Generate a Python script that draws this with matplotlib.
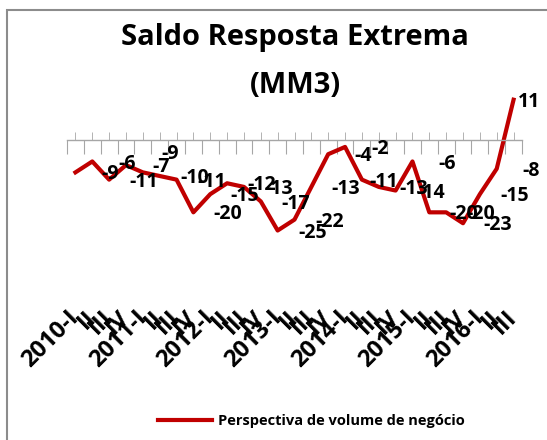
import matplotlib
matplotlib.use('Agg')
import matplotlib.pyplot as plt
import numpy as np
from matplotlib.patches import Rectangle

# trimestres 2010-I .. 2016-III
periodos = ['2010-I', 'II', 'III', 'IV',
            '2011-I', 'II', 'III', 'IV',
            '2012-I', 'II', 'III', 'IV',
            '2013-I', 'II', 'III', 'IV',
            '2014-I', 'II', 'III', 'IV',
            '2015-I', 'II', 'III', 'IV',
            '2016-I', 'II', 'III']
saldo = [-9, -6, -11, -7, -9, -10, -11, -20, -15, -12, -13, -17, -25, -22,
         -13, -4, -2, -11, -13, -14, -6, -20, -20, -23, -15, -8, 11]
serie = 'Perspectiva de volume de negócio'

plt.rcParams['font.family'] = ['Open Sans', 'DejaVu Sans']

W, H = 547, 440
fig = plt.figure(figsize=(W / 100, H / 100), dpi=100)
ax = fig.add_axes([67 / W, 1 - 285 / H, 455 / W, 218 / H])

x = np.arange(len(saldo))
ax.plot(x, saldo, color='#C00000', lw=3, label=serie)

ax.set_xlim(-0.5, len(saldo) - 0.5)
ax.set_ylim(-40, 20)
ax.set_yticks([])
for s in ['left', 'right', 'bottom']:
    ax.spines[s].set_visible(False)
ax.spines['top'].set_position(('data', 0))
ax.spines['top'].set_color('#A6A6A6')
ax.spines['top'].set_linewidth(1)

ax.set_xticks(np.arange(-0.5, len(saldo)), [''] * (len(saldo) + 1))
ax.set_xticks(x, periodos, minor=True)
ax.tick_params(axis='x', which='major', top=True, bottom=False, direction='in',
               length=10, color='#A6A6A6', labelbottom=False, labeltop=False)
ax.tick_params(axis='x', which='minor', top=True, bottom=False, direction='out',
               length=6, color='#A6A6A6', labelbottom=True, labeltop=False,
               pad=15, labelsize=17)
for lbl in ax.get_xticklabels(minor=True):
    lbl.set_rotation(45)
    lbl.set_rotation_mode('anchor')
    lbl.set_ha('right')
    lbl.set_va('center')
    lbl.set_fontweight('bold')

# rotulos de dados (deslocados para a direita, como no original)
ajuste = {4: (-5, 15), 17: (-9, 0), 26: (-14, 0)}
for i, v in enumerate(saldo):
    dx, dy = ajuste.get(i, (0, 0))
    ax.annotate(str(v), (i, v), xytext=(25 + dx, -1.5 + dy), textcoords='offset points',
                ha='center', va='center', fontsize=14, fontweight='bold')

fig.text(295 / W, 1 - 45 / H, 'Saldo Resposta Extrema', ha='center', va='baseline',
         fontsize=21, fontweight='bold')
fig.text(295 / W, 1 - 93 / H, '(MM3)', ha='center', va='baseline',
         fontsize=21, fontweight='bold')

fig.legend(loc='center left', bbox_to_anchor=(158 / W, 1 - 421 / H), frameon=False,
           borderpad=0, borderaxespad=0, handlelength=3.7, handletextpad=0.4,
           prop=dict(weight='bold', size=10.5))

fig.add_artist(Rectangle((7 / W, -0.1), 1.2, 1.1 - 10 / H, transform=fig.transFigure,
                         fill=False, edgecolor='#8C8C8C', lw=1.5))

fig.savefig('out.png', dpi=100)
